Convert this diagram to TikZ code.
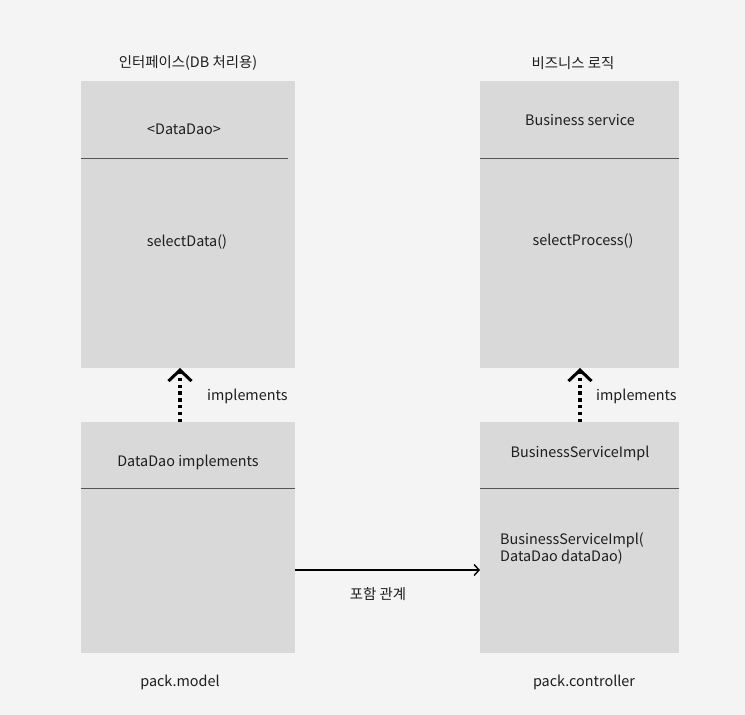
\documentclass[tikz,border=0pt]{standalone}
\usepackage{fontspec}
\setmainfont{Noto Sans CJK KR}
\usetikzlibrary{arrows.meta}
\definecolor{bgc}{HTML}{F4F4F4}
\definecolor{boxc}{HTML}{D9D9D9}
\definecolor{linec}{HTML}{555555}
\definecolor{txtc}{HTML}{1E1E1E}
\tikzset{
  boxshape/.style={fill=boxc, draw=none},
  divider/.style={draw=linec, line width=1pt},
  lbl/.style={font=\fontsize{14.4}{17}\selectfont, text=txtc, inner sep=0pt, yshift=-1.8pt},
  implarrow/.style={line width=3.2pt, dash pattern=on 3.4pt off 3.4pt,
    -{Straight Barb[length=11pt,width=23pt,line width=3pt]}},
  hasarrow/.style={line width=1.4pt, -{Straight Barb[length=5pt,width=11pt,line width=1.4pt]}}
}
\begin{document}
\begin{tikzpicture}[x=1pt,y=-1pt]
\fill[bgc] (0,0) rectangle (745,715);
\useasboundingbox (0,0) rectangle (745,715);
% boxes
\path[boxshape] (81,81) rectangle (295,368);
\path[boxshape] (480,81) rectangle (679,368);
\path[boxshape] (81,422) rectangle (295,653);
\path[boxshape] (480,422) rectangle (679,653);
\coordinate (ifaceBot) at (180,368);
\coordinate (implTop) at (180,422);
\coordinate (bsBot) at (580,368);
\coordinate (bsiTop) at (580,422);
\coordinate (modelR) at (295,570);
\coordinate (ctrlL) at (480,570);
% dividers
\draw[divider] (81,158) -- (288,158);
\draw[divider] (480,158) -- (679,158);
\draw[divider] (81,488) -- (295,488);
\draw[divider] (480,488) -- (679,488);
% labels
\node[lbl] (t1) at (188,61) {인터페이스(DB 처리용)};
\node[lbl] (t2) at (573,61) {비즈니스 로직};
\node[lbl] (n1) at (184,128) {<DataDao>};
\node[lbl] (n2) at (187,240) {selectData()};
\node[lbl] (n3) at (580,118) {Business service};
\node[lbl] (n4) at (583,239) {selectProcess()};
\node[lbl,anchor=west] (i1) at (207,395) {implements};
\node[lbl,anchor=west] (i2) at (596,395) {implements};
\node[lbl] (n5) at (188,461) {DataDao implements};
\node[lbl] (n6) at (580,452) {BusinessServiceImpl};
\node[lbl,anchor=west,align=left] (n7) at (500,547) {BusinessServiceImpl(\\DataDao dataDao)};
\node[lbl] (rel) at (378,592) {포함 관계};
\node[lbl] (p1) at (180,681) {pack.model};
\node[lbl] (p2) at (584,681) {pack.controller};
% arrows
\draw[implarrow] (implTop) -- (ifaceBot);
\draw[implarrow] (bsiTop) -- (bsBot);
\draw[hasarrow] (modelR) -- (ctrlL);
\end{tikzpicture}
\end{document}
